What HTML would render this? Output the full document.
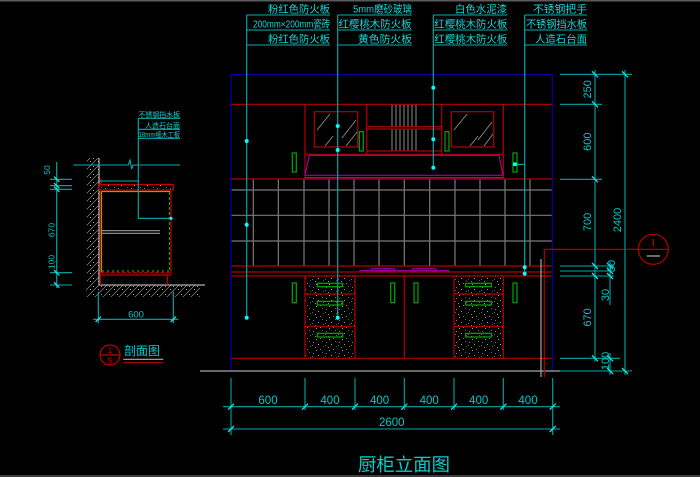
<!DOCTYPE html>
<html><head><meta charset="utf-8"><style>
html,body{margin:0;padding:0;background:#000;}
svg{display:block;}
.cjk{font-family:"Liberation Sans","Noto Sans CJK SC",sans-serif;}
</style></head><body>
<svg width="700" height="477" viewBox="0 0 700 477" xmlns="http://www.w3.org/2000/svg">
<defs>
<pattern id="sp" width="13" height="11" patternUnits="userSpaceOnUse">
<rect x="1" y="1" width="1" height="1" fill="#777"/><rect x="6" y="3" width="1" height="1" fill="#999"/>
<rect x="10" y="0" width="1" height="1" fill="#666"/><rect x="3" y="6" width="1" height="1" fill="#888"/>
<rect x="8" y="8" width="1" height="1" fill="#777"/><rect x="11" y="5" width="1" height="1" fill="#555"/>
<rect x="4" y="9" width="1" height="1" fill="#999"/><rect x="0" y="4" width="1" height="1" fill="#666"/>
</pattern>
<pattern id="hatch" width="8" height="8" patternUnits="userSpaceOnUse">
<path d="M0 8 L8 0" stroke="#8a8a8a" stroke-width="0.7"/>
<rect x="2" y="1" width="1" height="1" fill="#aaa"/><rect x="5" y="6" width="1" height="1" fill="#999"/>
</pattern>
</defs>
<rect x="0" y="0" width="700" height="477" fill="#000"/>
<rect x="0" y="0" width="700" height="1.5" fill="#5a5a5a"/>
<rect x="0" y="475" width="700" height="2" fill="#3c3c3c"/>

<!-- ===== MAIN ELEVATION ===== -->
<g fill="none" stroke-width="1.2">
<!-- tiles -->
<g stroke="#7a7a7a">
<line x1="231" y1="190" x2="552" y2="190"/><line x1="231" y1="215.3" x2="552" y2="215.3"/><line x1="231" y1="241" x2="552" y2="241"/>
<line x1="253.3" y1="179" x2="253.3" y2="266"/><line x1="278.3" y1="179" x2="278.3" y2="266"/><line x1="304" y1="179" x2="304" y2="266"/>
<line x1="329" y1="179" x2="329" y2="266"/><line x1="354" y1="179" x2="354" y2="266"/><line x1="379" y1="179" x2="379" y2="266"/>
<line x1="404.3" y1="179" x2="404.3" y2="266"/><line x1="429.7" y1="179" x2="429.7" y2="266"/><line x1="455" y1="179" x2="455" y2="266"/>
<line x1="480" y1="179" x2="480" y2="266"/><line x1="505" y1="179" x2="505" y2="266"/><line x1="530" y1="179" x2="530" y2="266"/>
</g>
<!-- middle upper slats -->
<g stroke="#8a8a8a" stroke-width="1">
<path d="M392 104V126.7M396 104V126.7M400 104V126.7M404 104V126.7M408 104V126.7M412 104V126.7M416 104V126.7"/>
<path d="M392 129V151M396 129V151M400 129V151M404 129V151M408 129V151M412 129V151M416 129V151"/>
</g>
<!-- drawer speckle -->
<rect x="305" y="276" width="50" height="82" fill="url(#sp)" stroke="none"/>
<rect x="454" y="276" width="49" height="82" fill="url(#sp)" stroke="none"/>
<!-- glass reflections -->
<g stroke="#8a8a8a" stroke-width="0.9">
<line x1="317" y1="130" x2="330" y2="114"/><line x1="325" y1="146" x2="333" y2="136"/>
<line x1="342" y1="138" x2="356" y2="120"/><line x1="346" y1="146" x2="357" y2="132"/>
<line x1="454" y1="130" x2="467" y2="114"/><line x1="470" y1="146" x2="478" y2="136"/>
<line x1="478" y1="140" x2="492" y2="122"/><line x1="484" y1="146" x2="493" y2="134"/>
</g>
<!-- red -->
<g stroke="#b40000">
<line x1="231" y1="104.3" x2="552" y2="104.3"/>
<line x1="231" y1="179" x2="552" y2="179"/>
<line x1="305" y1="104.3" x2="305" y2="179"/><line x1="503.3" y1="104.3" x2="503.3" y2="179"/>
<line x1="366.7" y1="104.3" x2="366.7" y2="154.3"/><line x1="441.7" y1="104.3" x2="441.7" y2="154.3"/>
<line x1="305" y1="154.3" x2="503.3" y2="154.3"/>
<line x1="366.7" y1="126.7" x2="441.7" y2="126.7"/><line x1="366.7" y1="129" x2="441.7" y2="129"/>
<line x1="366.7" y1="151" x2="441.7" y2="151"/>
<rect x="314.3" y="111.7" width="43.4" height="35.3"/>
<rect x="451.3" y="111.7" width="42.4" height="35.3"/>
<line x1="231" y1="266" x2="552" y2="266"/><line x1="231" y1="272" x2="552" y2="272"/><line x1="231" y1="276" x2="552" y2="276"/>
<line x1="231" y1="358.3" x2="552" y2="358.3"/>
<path d="M305 276V358.3M355 276V358.3M404.3 276V358.3M454 276V358.3M503.3 276V358.3"/>
<path d="M305 294H355M305 326.3H355M454 294H503.3M454 326.3H503.3"/>
</g>
<!-- magenta -->
<g stroke="#a400a4">
<path d="M309.3 155.3H499L503 175.3H305Z"/>
<line x1="305" y1="177.6" x2="503" y2="177.6"/>
<path d="M359.3 270.7H449.3M371.7 270.7V268.7H394.3V270.7M412.7 270.7V268.7H435.7V270.7"/>
</g>
<!-- green handles -->
<g stroke="#00a800">
<rect x="359.3" y="131.7" width="4" height="19.3"/><rect x="445" y="131.7" width="4" height="19.3"/>
<rect x="292.3" y="153" width="4" height="19"/><rect x="513" y="153" width="4" height="19"/>
<rect x="292.3" y="283" width="4" height="19.7"/><rect x="390.7" y="283" width="4" height="19.7"/>
<rect x="414" y="283" width="4" height="19.7"/><rect x="513" y="283" width="4" height="19.7"/>
<rect x="317.3" y="283.3" width="25.4" height="3.4"/><rect x="317.3" y="301.3" width="25.4" height="3.7"/><rect x="317.3" y="333.3" width="25.4" height="3.7"/>
<rect x="465.7" y="283.3" width="25.6" height="3.4"/><rect x="465.7" y="301.3" width="25.6" height="3.7"/><rect x="465.7" y="333.3" width="25.6" height="3.7"/>
</g>
<!-- blue outline -->
<g stroke="#0000b0">
<path d="M231 371V74.3H552.3V371"/>
</g>
<!-- ground -->
<line x1="200" y1="371" x2="560" y2="371" stroke="#a8a8a8"/>
<line x1="541" y1="259" x2="541" y2="377" stroke="#a8a8a8"/>
<!-- section marker -->
<g stroke="#b40000">
<path d="M544.3 377V249.3H668.3"/>
<circle cx="653.3" cy="249.3" r="15"/>
</g>
<line x1="646.7" y1="256" x2="660" y2="256" stroke="#b0b0b0"/>
</g>
<text x="653.3" y="246" fill="#c80000" font-family="Liberation Serif,serif" font-size="11" text-anchor="middle">1</text>

<!-- leaders -->
<g stroke="#00b0b0" stroke-width="1.1" fill="none">
<path d="M246.7 15V317.7M246.7 15H330M246.7 30H330M246.7 45H330"/>
<path d="M337.7 15V317.7M337.7 15H411.7M337.7 30H411.7M337.7 45H411.7"/>
<path d="M433.3 15V167.7M433.3 15H507.3M433.3 30H507.3M433.3 45H507.3"/>
<path d="M524.7 15V273.7M524.7 15H587M524.7 30H587M524.7 45H587M515 164.3H524.7"/>
</g>
<g fill="#00ffff">
<circle cx="246.7" cy="141" r="2"/><circle cx="246.7" cy="224.7" r="2"/><circle cx="246.7" cy="317.7" r="2"/>
<circle cx="337.7" cy="126" r="2"/><circle cx="337.7" cy="150" r="2"/><circle cx="337.7" cy="317.7" r="2"/>
<circle cx="433.3" cy="87.7" r="2"/><circle cx="433.3" cy="139.3" r="2"/><circle cx="433.3" cy="167.7" r="2"/>
<circle cx="515" cy="164.3" r="2"/><circle cx="524.7" cy="267.3" r="2"/><circle cx="524.7" cy="273.7" r="2"/>
</g>
<g class="cjk" fill="#10d8d8" font-size="10.5">
<text x="268" y="12.5" textLength="62" lengthAdjust="spacingAndGlyphs">粉红色防火板</text>
<text x="253" y="27.5" textLength="77" lengthAdjust="spacingAndGlyphs">200mm×200mm瓷砖</text>
<text x="268" y="42.5" textLength="62" lengthAdjust="spacingAndGlyphs">粉红色防火板</text>
<text x="353" y="12.5" textLength="59" lengthAdjust="spacingAndGlyphs">5mm磨砂玻璃</text>
<text x="338.5" y="27.5" textLength="73" lengthAdjust="spacingAndGlyphs">红樱桃木防火板</text>
<text x="358" y="42.5" textLength="54" lengthAdjust="spacingAndGlyphs">黄色防火板</text>
<text x="455" y="12.5" textLength="52" lengthAdjust="spacingAndGlyphs">白色水泥漆</text>
<text x="434.3" y="27.5" textLength="73" lengthAdjust="spacingAndGlyphs">红樱桃木防火板</text>
<text x="434.3" y="42.5" textLength="73" lengthAdjust="spacingAndGlyphs">红樱桃木防火板</text>
<text x="533" y="12.5" textLength="54" lengthAdjust="spacingAndGlyphs">不锈钢把手</text>
<text x="526" y="27.5" textLength="61" lengthAdjust="spacingAndGlyphs">不锈钢挡水板</text>
<text x="535" y="42.5" textLength="52" lengthAdjust="spacingAndGlyphs">人造石台面</text>
</g>

<!-- right dims -->
<g stroke="#00a8a8" stroke-width="1.1" fill="none">
<path d="M560 74.3H632M560 104.3H602M560 179.3H602M560 266H614M560 271H614M560 276H614M560 358.3H620M560 371H632"/>
<path d="M595 70V362M610 261.7V305M610 353V375M625 70V375"/>
<g stroke="#20e0e0" stroke-width="1.3">
<path d="M592 71.3L598 77.3M592 101.3L598 107.3M592 176.3L598 182.3M592 263L598 269M592 273L598 279M592 355.3L598 361.3"/>
<path d="M607 263L613 269M607 268L613 274M607 273L613 279M607 355.3L613 361.3M607 368L613 374"/>
<path d="M622 71.3L628 77.3M622 368L628 374"/>
</g>
</g>
<g fill="#00c8c8" font-family="Liberation Sans,sans-serif" font-size="11" text-anchor="middle">
<text transform="translate(591,89.3) rotate(-90)">250</text>
<text transform="translate(591,141.7) rotate(-90)">600</text>
<text transform="translate(591,222) rotate(-90)">700</text>
<text transform="translate(591,317.5) rotate(-90)">670</text>
<text transform="translate(621,220) rotate(-90)">2400</text>
<text transform="translate(615,266) rotate(-90)">50</text>
<text transform="translate(609,295) rotate(-90)">30</text>
<text transform="translate(609,361) rotate(-90)">100</text>
</g>

<!-- bottom dims -->
<g stroke="#00a8a8" stroke-width="1.1" fill="none">
<path d="M231 378V435M552.7 378V435M305 378V410M355 378V410M404.3 378V410M454 378V410M503.3 378V410"/>
<path d="M223 406.7H560M223 429H560"/>
<g stroke="#20e0e0" stroke-width="1.3">
<path d="M228 409.7L234 403.7M302 409.7L308 403.7M352 409.7L358 403.7M401.3 409.7L407.3 403.7M451 409.7L457 403.7M500.3 409.7L506.3 403.7M549.7 409.7L555.7 403.7"/>
<path d="M228 432L234 426M549.7 432L555.7 426"/>
</g>
</g>
<g fill="#00c8c8" font-family="Liberation Sans,sans-serif" font-size="11.5" text-anchor="middle">
<text x="268" y="404">600</text><text x="330" y="404">400</text><text x="379.6" y="404">400</text>
<text x="429.2" y="404">400</text><text x="478.7" y="404">400</text><text x="528" y="404">400</text>
<text x="391.8" y="426">2600</text>
</g>
<text x="404" y="471" class="cjk" fill="#00d0d0" font-size="18" text-anchor="middle" textLength="92" lengthAdjust="spacingAndGlyphs">厨柜立面图</text>

<!-- ===== SECTION VIEW ===== -->
<rect x="86.7" y="158" width="12.3" height="127" fill="url(#hatch)"/>
<rect x="86" y="285" width="114" height="12" fill="url(#hatch)"/>
<g fill="none" stroke-width="1.2">
<line x1="99" y1="158" x2="99" y2="285" stroke="#b0b0b0"/>
<line x1="99" y1="285" x2="205" y2="285" stroke="#b0b0b0"/>
<rect x="99" y="184.5" width="74.3" height="5.5" fill="url(#sp)" stroke="#c00000"/>
<path d="M99.5 179.3H101V184.5" stroke="#c00000"/>
<line x1="100" y1="230.7" x2="160" y2="230.7" stroke="#9a9a9a"/>
<line x1="100" y1="233.3" x2="160" y2="233.3" stroke="#9a9a9a"/>
<path d="M100.3 190V285" stroke="#c00000"/>
<path d="M101.5 191.5V272M101.5 191.5H170" stroke="#a0a000"/>
<path d="M171 190V275M100 275H171M167.3 275V285" stroke="#c00000"/>
<path d="M169.5 192V272" stroke="#00a800" stroke-dasharray="3 2"/>
<path d="M100 272.7H170" stroke="#c00000" stroke-dasharray="4 1.5"/>
<path d="M102 271H170" stroke="#00a800" stroke-dasharray="2 3"/>
</g>
<g stroke="#00b0b0" stroke-width="1.1" fill="none">
<path d="M73.3 165H128.3L130 160L131.7 169L133 165H180"/>
<path d="M138.3 118.3V218.3H171M138.3 118.3H180M138.3 129.3H180M138.3 138.3H180M98 181H138.3"/>
<path d="M56.7 162V288M50 179.3H72M50 185.7H72M50 189.3H72M50 272.7H72M50 285H72"/>
<path d="M98.3 291.7V323.3M173.3 291.7V323.3M93.3 319.3H178.3"/>
<g stroke="#20e0e0" stroke-width="1.3">
<path d="M54 176.6L59.4 182M54 183L59.4 188.4M54 186.6L59.4 192M54 270L59.4 275.4M54 282.3L59.4 287.7"/>
<path d="M95.6 322L101 316.6M170.6 322L176 316.6"/>
</g>
</g>
<circle cx="171" cy="218.3" r="1.6" fill="#00ffff"/>
<g fill="#00c8c8" font-family="Liberation Sans,sans-serif" font-size="8.5" text-anchor="middle">
<text transform="translate(50,170) rotate(-90)">50</text>
<text transform="translate(54.5,230) rotate(-90)">670</text>
<text transform="translate(54.5,262) rotate(-90)">100</text>
<text x="136" y="317.5" font-size="9.5">600</text>
</g>
<g class="cjk" fill="#10d0d0" font-size="7">
<text x="138.5" y="117" textLength="41.5" lengthAdjust="spacingAndGlyphs">不锈钢挡水板</text>
<text x="145" y="128" textLength="35" lengthAdjust="spacingAndGlyphs">人造石台面</text>
<text x="138.5" y="137" textLength="41.5" lengthAdjust="spacingAndGlyphs">18mm细木工板</text>
</g>
<!-- section symbol -->
<g fill="none" stroke="#c00000" stroke-width="1.2">
<circle cx="110" cy="355" r="10"/>
<line x1="100" y1="355" x2="120" y2="355"/>
</g>
<text x="110" y="353" fill="#d00000" font-family="Liberation Sans,sans-serif" font-size="8" text-anchor="middle">1</text>
<text x="110" y="363.5" fill="#d00000" font-family="Liberation Sans,sans-serif" font-size="8" text-anchor="middle">S</text>
<text x="124" y="355" class="cjk" fill="#00d0d0" font-size="12" textLength="36" lengthAdjust="spacingAndGlyphs">剖面图</text>
<line x1="123.3" y1="359.3" x2="163.3" y2="359.3" stroke="#b0b0b0" stroke-width="1.2"/>
<line x1="123.3" y1="362.7" x2="163.3" y2="362.7" stroke="#c00000" stroke-width="1.2"/>
</svg>
</body></html>
